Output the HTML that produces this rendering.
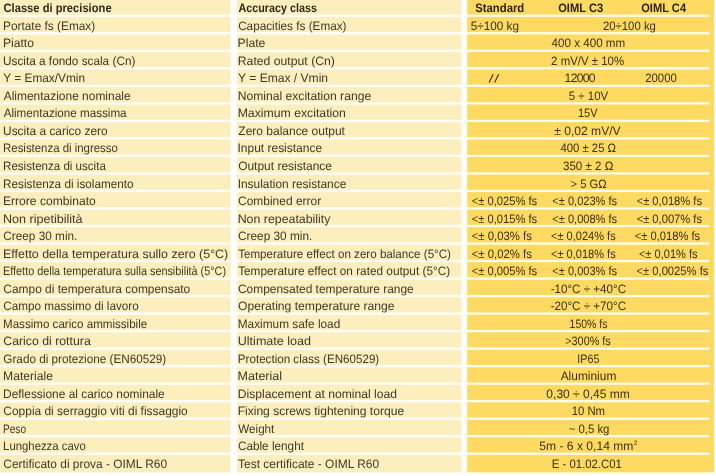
<!DOCTYPE html>
<html><head><meta charset="utf-8"><title>Table</title>
<style>
html,body{margin:0;padding:0;background:#fff;}
body{width:716px;height:476px;overflow:hidden;}
svg{display:block;will-change:transform;text-rendering:geometricPrecision;}
text{font-family:"Liberation Sans",sans-serif;font-size:12.2px;fill:#3d3828;}
.b{font-weight:bold;fill:#2f291c;}
.y{fill:#3a3013;}
.b.y{fill:#2c2409;}
</style></head><body>
<svg width="716" height="476" viewBox="0 0 716 476">
<rect x="0" y="0" width="716" height="476" fill="#ffffff"/>
<rect x="0" y="-2" width="230.8" height="474.4" fill="#fdeebe"/>
<rect x="236.8" y="-2" width="224.5" height="474.4" fill="#fdeebe"/>
<rect x="467.2" y="-2" width="247.0" height="474.4" fill="#ffda62"/>
<rect x="0" y="14.55" width="461.3" height="2.4" fill="#fffefa"/>
<rect x="467.2" y="14.65" width="242.1" height="2.2" fill="#fffff4"/>
<rect x="0" y="32.07" width="461.3" height="2.4" fill="#fffefa"/>
<rect x="467.2" y="32.17" width="242.1" height="2.2" fill="#fffff4"/>
<rect x="0" y="49.59" width="461.3" height="2.4" fill="#fffefa"/>
<rect x="467.2" y="49.69" width="242.1" height="2.2" fill="#fffff4"/>
<rect x="0" y="67.11" width="461.3" height="2.4" fill="#fffefa"/>
<rect x="467.2" y="67.21" width="242.1" height="2.2" fill="#fffff4"/>
<rect x="0" y="84.63" width="461.3" height="2.4" fill="#fffefa"/>
<rect x="467.2" y="84.73" width="242.1" height="2.2" fill="#fffff4"/>
<rect x="0" y="102.15" width="461.3" height="2.4" fill="#fffefa"/>
<rect x="467.2" y="102.25" width="242.1" height="2.2" fill="#fffff4"/>
<rect x="0" y="119.67" width="461.3" height="2.4" fill="#fffefa"/>
<rect x="467.2" y="119.77" width="242.1" height="2.2" fill="#fffff4"/>
<rect x="0" y="137.19" width="461.3" height="2.4" fill="#fffefa"/>
<rect x="467.2" y="137.29" width="242.1" height="2.2" fill="#fffff4"/>
<rect x="0" y="154.71" width="461.3" height="2.4" fill="#fffefa"/>
<rect x="467.2" y="154.81" width="242.1" height="2.2" fill="#fffff4"/>
<rect x="0" y="172.23" width="461.3" height="2.4" fill="#fffefa"/>
<rect x="467.2" y="172.33" width="242.1" height="2.2" fill="#fffff4"/>
<rect x="0" y="189.75" width="461.3" height="2.4" fill="#fffefa"/>
<rect x="467.2" y="189.85" width="242.1" height="2.2" fill="#fffff4"/>
<rect x="0" y="207.27" width="461.3" height="2.4" fill="#fffefa"/>
<rect x="467.2" y="207.37" width="242.1" height="2.2" fill="#fffff4"/>
<rect x="0" y="224.79" width="461.3" height="2.4" fill="#fffefa"/>
<rect x="467.2" y="224.89" width="242.1" height="2.2" fill="#fffff4"/>
<rect x="0" y="242.31" width="461.3" height="2.4" fill="#fffefa"/>
<rect x="467.2" y="242.41" width="242.1" height="2.2" fill="#fffff4"/>
<rect x="0" y="259.83" width="461.3" height="2.4" fill="#fffefa"/>
<rect x="467.2" y="259.93" width="242.1" height="2.2" fill="#fffff4"/>
<rect x="0" y="277.35" width="461.3" height="2.4" fill="#fffefa"/>
<rect x="467.2" y="277.45" width="242.1" height="2.2" fill="#fffff4"/>
<rect x="0" y="294.87" width="461.3" height="2.4" fill="#fffefa"/>
<rect x="467.2" y="294.97" width="242.1" height="2.2" fill="#fffff4"/>
<rect x="0" y="312.39" width="461.3" height="2.4" fill="#fffefa"/>
<rect x="467.2" y="312.49" width="242.1" height="2.2" fill="#fffff4"/>
<rect x="0" y="329.91" width="461.3" height="2.4" fill="#fffefa"/>
<rect x="467.2" y="330.01" width="242.1" height="2.2" fill="#fffff4"/>
<rect x="0" y="347.43" width="461.3" height="2.4" fill="#fffefa"/>
<rect x="467.2" y="347.53" width="242.1" height="2.2" fill="#fffff4"/>
<rect x="0" y="364.95" width="461.3" height="2.4" fill="#fffefa"/>
<rect x="467.2" y="365.05" width="242.1" height="2.2" fill="#fffff4"/>
<rect x="0" y="382.47" width="461.3" height="2.4" fill="#fffefa"/>
<rect x="467.2" y="382.57" width="242.1" height="2.2" fill="#fffff4"/>
<rect x="0" y="399.99" width="461.3" height="2.4" fill="#fffefa"/>
<rect x="467.2" y="400.09" width="242.1" height="2.2" fill="#fffff4"/>
<rect x="0" y="417.51" width="461.3" height="2.4" fill="#fffefa"/>
<rect x="467.2" y="417.61" width="242.1" height="2.2" fill="#fffff4"/>
<rect x="0" y="435.03" width="461.3" height="2.4" fill="#fffefa"/>
<rect x="467.2" y="435.13" width="242.1" height="2.2" fill="#fffff4"/>
<rect x="0" y="452.55" width="461.3" height="2.4" fill="#fffefa"/>
<rect x="467.2" y="452.65" width="242.1" height="2.2" fill="#fffff4"/>
<rect x="230.8" y="-2" width="6.0" height="480" fill="#ffffff"/>
<text id="a0" x="3.50" y="12.00" class="b" textLength="108.11" lengthAdjust="spacingAndGlyphs">Classe di precisione</text>
<text id="b0" x="238.42" y="12.00" class="b" textLength="78.57" lengthAdjust="spacingAndGlyphs">Accuracy class</text>
<text id="c0_0" x="475.20" y="12.00" class="b y" textLength="49.08" lengthAdjust="spacingAndGlyphs">Standard</text>
<text id="c0_1" x="558.21" y="12.00" class="b y" textLength="44.90" lengthAdjust="spacingAndGlyphs">OIML C3</text>
<text id="c0_2" x="641.15" y="12.00" class="b y" textLength="44.96" lengthAdjust="spacingAndGlyphs">OIML C4</text>
<text id="a1" x="3.00" y="30.00" textLength="92.26" lengthAdjust="spacingAndGlyphs">Portate fs (Emax)</text>
<text id="b1" x="238.14" y="30.00" textLength="108.42" lengthAdjust="spacingAndGlyphs">Capacities fs (Emax)</text>
<text id="c1_0" x="470.66" y="30.00" class="y" textLength="48.41" lengthAdjust="spacingAndGlyphs">5÷100 kg</text>
<text id="c1_1" x="602.90" y="30.00" class="y" textLength="53.06" lengthAdjust="spacingAndGlyphs">20÷100 kg</text>
<text id="a2" x="3.03" y="47.00" textLength="30.86" lengthAdjust="spacingAndGlyphs">Piatto</text>
<text id="b2" x="237.62" y="47.00" textLength="27.77" lengthAdjust="spacingAndGlyphs">Plate</text>
<text id="c2_0" x="551.59" y="47.00" class="y" textLength="73.59" lengthAdjust="spacingAndGlyphs">400 x 400 mm</text>
<text id="a3" x="3.01" y="65.00" textLength="132.39" lengthAdjust="spacingAndGlyphs">Uscita a fondo scala (Cn)</text>
<text id="b3" x="237.75" y="65.00" textLength="97.18" lengthAdjust="spacingAndGlyphs">Rated output (Cn)</text>
<text id="c3_0" x="551.11" y="65.00" class="y" textLength="72.95" lengthAdjust="spacingAndGlyphs">2 mV/V ± 10%</text>
<text id="a4" x="3.35" y="82.00" textLength="81.65" lengthAdjust="spacingAndGlyphs">Y = Emax/Vmin</text>
<text id="b4" x="238.06" y="82.00" textLength="90.03" lengthAdjust="spacingAndGlyphs">Y = Emax / Vmin</text>
<text id="c4_0" x="564.60" y="82.00" class="y" textLength="30.98" lengthAdjust="spacing">12000</text>
<text id="c4_1" x="645.22" y="82.00" class="y" textLength="31.59" lengthAdjust="spacingAndGlyphs">20000</text>
<text id="a5" x="3.76" y="100.00" textLength="126.84" lengthAdjust="spacingAndGlyphs">Alimentazione nominale</text>
<text id="b5" x="237.67" y="100.00" textLength="133.48" lengthAdjust="spacingAndGlyphs">Nominal excitation range</text>
<text id="c5_0" x="568.78" y="100.00" class="y" textLength="39.41" lengthAdjust="spacingAndGlyphs">5 ÷ 10V</text>
<text id="a6" x="3.68" y="117.00" textLength="122.88" lengthAdjust="spacingAndGlyphs">Alimentazione massima</text>
<text id="b6" x="237.66" y="117.00" textLength="108.28" lengthAdjust="spacingAndGlyphs">Maximum excitation</text>
<text id="c6_0" x="577.96" y="117.00" class="y" textLength="19.51" lengthAdjust="spacingAndGlyphs">15V</text>
<text id="a7" x="3.05" y="135.00" textLength="104.65" lengthAdjust="spacingAndGlyphs">Uscita a carico zero</text>
<text id="b7" x="238.35" y="135.00" textLength="106.60" lengthAdjust="spacingAndGlyphs">Zero balance output</text>
<text id="c7_0" x="554.28" y="135.00" class="y" textLength="66.34" lengthAdjust="spacingAndGlyphs">± 0,02 mV/V</text>
<text id="a8" x="3.09" y="152.00" textLength="114.73" lengthAdjust="spacingAndGlyphs">Resistenza di ingresso</text>
<text id="b8" x="237.52" y="152.00" textLength="84.55" lengthAdjust="spacingAndGlyphs">Input resistance</text>
<text id="c8_0" x="560.49" y="152.00" class="y" textLength="55.59" lengthAdjust="spacingAndGlyphs">400 ± 25 Ω</text>
<text id="a9" x="3.04" y="170.00" textLength="102.79" lengthAdjust="spacingAndGlyphs">Resistenza di uscita</text>
<text id="b9" x="238.17" y="170.00" textLength="93.79" lengthAdjust="spacingAndGlyphs">Output resistance</text>
<text id="c9_0" x="563.01" y="170.00" class="y" textLength="50.26" lengthAdjust="spacingAndGlyphs">350 ± 2 Ω</text>
<text id="a10" x="3.08" y="188.00" textLength="130.51" lengthAdjust="spacingAndGlyphs">Resistenza di isolamento</text>
<text id="b10" x="237.68" y="188.00" textLength="108.64" lengthAdjust="spacingAndGlyphs">Insulation resistance</text>
<text id="c10_0" x="570.61" y="188.00" class="y" textLength="36.06" lengthAdjust="spacingAndGlyphs">&gt; 5 GΩ</text>
<text id="a11" x="2.98" y="205.00" textLength="92.80" lengthAdjust="spacingAndGlyphs">Errore combinato</text>
<text id="b11" x="238.07" y="205.00" textLength="83.07" lengthAdjust="spacingAndGlyphs">Combined error</text>
<text id="c11_0" x="471.65" y="205.00" class="y" textLength="65.57" lengthAdjust="spacingAndGlyphs">&lt;± 0,025% fs</text>
<text id="c11_1" x="552.37" y="205.00" class="y" textLength="64.77" lengthAdjust="spacingAndGlyphs">&lt;± 0,023% fs</text>
<text id="c11_2" x="636.64" y="205.00" class="y" textLength="65.41" lengthAdjust="spacingAndGlyphs">&lt;± 0,018% fs</text>
<text id="a12" x="2.93" y="223.00" textLength="79.67" lengthAdjust="spacingAndGlyphs">Non ripetibilità</text>
<text id="b12" x="237.65" y="223.00" textLength="92.82" lengthAdjust="spacingAndGlyphs">Non repeatability</text>
<text id="c12_0" x="471.65" y="223.00" class="y" textLength="65.57" lengthAdjust="spacingAndGlyphs">&lt;± 0,015% fs</text>
<text id="c12_1" x="552.37" y="223.00" class="y" textLength="64.77" lengthAdjust="spacingAndGlyphs">&lt;± 0,008% fs</text>
<text id="c12_2" x="636.64" y="223.00" class="y" textLength="65.41" lengthAdjust="spacingAndGlyphs">&lt;± 0,007% fs</text>
<text id="a13" x="3.27" y="240.00" textLength="74.10" lengthAdjust="spacingAndGlyphs">Creep 30 min.</text>
<text id="b13" x="238.09" y="240.00" textLength="74.23" lengthAdjust="spacingAndGlyphs">Creep 30 min.</text>
<text id="c13_0" x="471.68" y="240.00" class="y" textLength="60.16" lengthAdjust="spacingAndGlyphs">&lt;± 0,03% fs</text>
<text id="c13_1" x="551.00" y="240.00" class="y" textLength="64.66" lengthAdjust="spacingAndGlyphs">&lt;± 0,024% fs</text>
<text id="c13_2" x="634.65" y="240.00" class="y" textLength="65.57" lengthAdjust="spacingAndGlyphs">&lt;± 0,018% fs</text>
<text id="a14" x="3.04" y="258.00" textLength="225.20" lengthAdjust="spacingAndGlyphs">Effetto della temperatura sullo zero (5°C)</text>
<text id="b14" x="238.16" y="258.00" textLength="212.82" lengthAdjust="spacingAndGlyphs">Temperature effect on zero balance (5°C)</text>
<text id="c14_0" x="471.68" y="258.00" class="y" textLength="60.16" lengthAdjust="spacingAndGlyphs">&lt;± 0,02% fs</text>
<text id="c14_1" x="551.00" y="258.00" class="y" textLength="64.66" lengthAdjust="spacingAndGlyphs">&lt;± 0,018% fs</text>
<text id="c14_2" x="638.91" y="258.00" class="y" textLength="58.66" lengthAdjust="spacingAndGlyphs">&lt;± 0,01% fs</text>
<text id="a15" x="3.03" y="275.00" textLength="223.03" lengthAdjust="spacingAndGlyphs">Effetto della temperatura sulla sensibilità (5°C)</text>
<text id="b15" x="238.14" y="275.00" textLength="212.08" lengthAdjust="spacingAndGlyphs">Temperature effect on rated output (5°C)</text>
<text id="c15_0" x="471.65" y="275.00" class="y" textLength="65.57" lengthAdjust="spacingAndGlyphs">&lt;± 0,005% fs</text>
<text id="c15_1" x="552.37" y="275.00" class="y" textLength="64.77" lengthAdjust="spacingAndGlyphs">&lt;± 0,003% fs</text>
<text id="c15_2" x="636.51" y="275.00" class="y" textLength="71.85" lengthAdjust="spacingAndGlyphs">&lt;± 0,0025% fs</text>
<text id="a16" x="3.36" y="293.00" textLength="186.90" lengthAdjust="spacingAndGlyphs">Campo di temperatura compensato</text>
<text id="b16" x="238.00" y="293.00" textLength="175.71" lengthAdjust="spacingAndGlyphs">Compensated temperature range</text>
<text id="c16_0" x="550.64" y="293.00" class="y" textLength="75.43" lengthAdjust="spacingAndGlyphs">-10°C ÷ +40°C</text>
<text id="a17" x="3.36" y="310.00" textLength="135.31" lengthAdjust="spacingAndGlyphs">Campo massimo di lavoro</text>
<text id="b17" x="238.05" y="310.00" textLength="156.55" lengthAdjust="spacingAndGlyphs">Operating temperature range</text>
<text id="c17_0" x="550.64" y="310.00" class="y" textLength="75.43" lengthAdjust="spacingAndGlyphs">-20°C ÷ +70°C</text>
<text id="a18" x="3.04" y="328.00" textLength="144.17" lengthAdjust="spacingAndGlyphs">Massimo carico ammissibile</text>
<text id="b18" x="237.76" y="328.00" textLength="102.51" lengthAdjust="spacingAndGlyphs">Maximum safe load</text>
<text id="c18_0" x="569.58" y="328.00" class="y" textLength="37.79" lengthAdjust="spacingAndGlyphs">150% fs</text>
<text id="a19" x="3.28" y="345.00" textLength="87.46" lengthAdjust="spacingAndGlyphs">Carico di rottura</text>
<text id="b19" x="237.75" y="345.00" textLength="73.29" lengthAdjust="spacingAndGlyphs">Ultimate load</text>
<text id="c19_0" x="565.26" y="345.00" class="y" textLength="45.49" lengthAdjust="spacingAndGlyphs">&gt;300% fs</text>
<text id="a20" x="3.35" y="363.00" textLength="162.85" lengthAdjust="spacingAndGlyphs">Grado di protezione (EN60529)</text>
<text id="b20" x="237.87" y="363.00" textLength="141.36" lengthAdjust="spacingAndGlyphs">Protection class (EN60529)</text>
<text id="c20_0" x="577.37" y="363.00" class="y" textLength="22.04" lengthAdjust="spacingAndGlyphs">IP65</text>
<text id="a21" x="3.01" y="380.00" textLength="50.00" lengthAdjust="spacingAndGlyphs">Materiale</text>
<text id="b21" x="237.62" y="380.00" textLength="44.36" lengthAdjust="spacingAndGlyphs">Material</text>
<text id="c21_0" x="560.66" y="380.00" class="y" textLength="55.69" lengthAdjust="spacingAndGlyphs">Aluminium</text>
<text id="a22" x="3.09" y="398.00" textLength="161.58" lengthAdjust="spacingAndGlyphs">Deflessione al carico nominale</text>
<text id="b22" x="237.69" y="398.00" textLength="159.34" lengthAdjust="spacingAndGlyphs">Displacement at nominal load</text>
<text id="c22_0" x="546.36" y="398.00" class="y" textLength="83.40" lengthAdjust="spacingAndGlyphs">0,30 ÷ 0,45 mm</text>
<text id="a23" x="3.36" y="415.00" textLength="184.34" lengthAdjust="spacingAndGlyphs">Coppia di serraggio viti di fissaggio</text>
<text id="b23" x="237.63" y="415.00" textLength="166.50" lengthAdjust="spacingAndGlyphs">Fixing screws tightening torque</text>
<text id="c23_0" x="571.66" y="415.00" class="y" textLength="33.42" lengthAdjust="spacingAndGlyphs">10 Nm</text>
<text id="a24" x="3.00" y="433.00" textLength="23.04" lengthAdjust="spacingAndGlyphs">Peso</text>
<text id="b24" x="238.37" y="433.00" textLength="35.96" lengthAdjust="spacingAndGlyphs">Weight</text>
<text id="c24_0" x="568.63" y="433.00" class="y" textLength="40.83" lengthAdjust="spacingAndGlyphs">~ 0,5 kg</text>
<text id="a25" x="3.10" y="450.00" textLength="82.61" lengthAdjust="spacingAndGlyphs">Lunghezza cavo</text>
<text id="b25" x="237.95" y="450.00" textLength="65.99" lengthAdjust="spacingAndGlyphs">Cable lenght</text>
<text id="c25_0" x="539.18" y="450.00" class="y" textLength="94.31" lengthAdjust="spacingAndGlyphs">5m - 6 x 0,14 mm</text>
<text id="a26" x="3.36" y="468.00" textLength="163.67" lengthAdjust="spacingAndGlyphs">Certificato di prova - OIML R60</text>
<text id="b26" x="238.12" y="468.00" textLength="141.03" lengthAdjust="spacingAndGlyphs">Test certificate - OIML R60</text>
<text id="c26_0" x="551.81" y="468.00" class="y" textLength="70.15" lengthAdjust="spacingAndGlyphs">E - 01.02.C01</text>
<path d="M489.1 82.4L493.2 74.2M494.6 82.4L498.7 74.2" stroke="#3a3013" stroke-width="1.15" fill="none"/>
<text class="y" x="633.8" y="445" style="font-size:6.5px">2</text>
</svg>
</body></html>
